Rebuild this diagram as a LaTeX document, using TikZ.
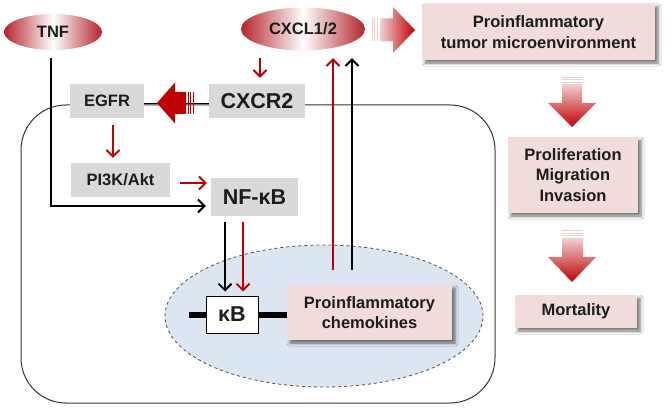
\documentclass[tikz,border=0pt]{standalone}
\usepackage{fontspec}
\setmainfont{Liberation Sans}
\usetikzlibrary{arrows.meta,shapes.geometric,shadows.blur,calc}
\definecolor{dred}{HTML}{C00000}
\definecolor{ered}{HTML}{B3262B}
\definecolor{pinkbox}{HTML}{F2DCDB}
\definecolor{graybox}{HTML}{D9D9D9}
\definecolor{nucfill}{HTML}{DCE6F2}
\definecolor{txt}{HTML}{1C1C1C}
\definecolor{lightpk}{HTML}{F2CFCF}
\begin{document}
\begin{tikzpicture}[x=1pt,y=-1pt,
  base/.style={font=\fontsize{16.5}{20.5}\selectfont\bfseries, text=txt, inner sep=0pt, align=center},
  big/.style={font=\fontsize{21.5}{24}\selectfont\bfseries},
  graybx/.style={base, rectangle, fill=graybox},
  pinkbx/.style={base, rectangle, fill=pinkbox, blur shadow={shadow xshift=3pt, shadow yshift=-3pt, shadow blur radius=3pt, shadow opacity=55}},
  lig/.style={base, ellipse, left color=ered, right color=ered, middle color=white},
  redarr/.style={draw=dred, line width=1.9pt, -{Straight Barb[length=6.5pt,width=13pt]}},
  blkarr/.style={draw=black, line width=1.9pt, -{Straight Barb[length=6.5pt,width=13pt]}},
  stripe/.style={line width=0.8pt},
]
\useasboundingbox (0,0) rectangle (672,409);
\fill[white] (0,0) rectangle (672,409);

% cell
\draw[line width=1pt, black!80, rounded corners=45] (21,105) rectangle (495,403);
% nucleus
\node[ellipse, draw=black!70, dashed, line width=0.8pt, fill=nucfill, minimum width=318, minimum height=142, inner sep=0] (nuc) at (324,316) {};

% nodes
\node[lig, minimum width=98, minimum height=36] (tnf) at (53,32) {TNF};
\node[lig, minimum width=124, minimum height=43] (cxcl) at (303,29) {CXCL1/2};
\node[graybx, minimum width=74, minimum height=34] (egfr) at (107,101) {EGFR};
\node[graybx, big, minimum width=96, minimum height=34] (cxcr2) at (257,101) {CXCR2};
\node[graybx, minimum width=99, minimum height=34] (pi3k) at (120.5,180) {PI3K/Akt};
\node[graybx, big, minimum width=87, minimum height=38] (nfkb) at (254.5,197) {NF-κB};
\node[pinkbx, minimum width=165, minimum height=55] (chemo) at (369.5,312.5) {Proinflammatory\\chemokines};
\draw[line width=6pt] (189,315) -- (chemo.west |- 0,315);
\node[base, big, draw=black, line width=1pt, fill=white, minimum width=52, minimum height=37] (kb) at (232,314.5) {κB};
\node[pinkbx, minimum width=233, minimum height=56] (tme) at (538.5,32) {Proinflammatory\\tumor microenvironment};
\node[pinkbx, minimum width=130, minimum height=76] (pmi) at (573,175) {Proliferation\\Migration\\Invasion};
\node[pinkbx, minimum width=122, minimum height=33] (mort) at (576,311.5) {Mortality};

% EGFR - CXCR2 line and block arrow
\draw[line width=0.8pt] (egfr.east |- 0,103) -- (cxcr2.west |- 0,103);
\fill[dred] (157,103) -- (175,82.5) -- (175,92) -- (186,92) -- (186,114) -- (175,114) -- (175,123.5) -- cycle;
\foreach \xx in {188,190.5,193} \draw[dred, stripe] (\xx,92) -- (\xx,114);

% right block arrow (CXCL -> TME)
\shade[left color=lightpk, right color=dred] (380,18.5) -- (393,18.5) -- (393,7) -- (415,30) -- (393,53) -- (393,41.5) -- (380,41.5) -- cycle;
\foreach \xx in {372,374.5,377} \draw[lightpk, stripe] (\xx,18.5) -- (\xx,41.5);

% down block arrows
\shade[top color=lightpk, bottom color=dred] (562,84) -- (582,84) -- (582,103) -- (596,103) -- (572,127) -- (548,103) -- (562,103) -- cycle;
\foreach \yy in {77,79.5,82} \draw[lightpk, stripe] (562,\yy) -- (582,\yy);
\shade[top color=lightpk, bottom color=dred] (562,238) -- (583,238) -- (583,257) -- (596,257) -- (572,282) -- (548,257) -- (562,257) -- cycle;
\foreach \yy in {230.5,233,235.5} \draw[lightpk, stripe] (562,\yy) -- (583,\yy);

% small arrows
\draw[redarr, shorten <=7.5pt, shorten >=6pt] (cxcl.south -| 260,0) -- (cxcr2.north -| 260,0);
\draw[redarr, shorten <=7pt, shorten >=5pt] ([xshift=6pt]egfr.south) -- ([xshift=6pt]egfr.south |- pi3k.north);
\draw[redarr, shorten <=10pt, shorten >=4pt] ([yshift=-3pt]pi3k.east) -- ([yshift=-3pt]pi3k.east -| nfkb.west);
\draw[blkarr, shorten <=8pt, shorten >=5pt] (tnf.south -| 51,0) |- ([yshift=-9pt]nfkb.west);
\draw[blkarr, shorten <=6pt, shorten >=4pt] ([xshift=-7pt]kb.north |- nfkb.south) -- ([xshift=-7pt]kb.north);
\draw[redarr, shorten <=6pt, shorten >=4pt] ([xshift=11pt]kb.north |- nfkb.south) -- ([xshift=11pt]kb.north);
\draw[redarr, shorten <=15pt, shorten >=7.5pt] ([xshift=-36.5pt]chemo.north) -- ([xshift=-36.5pt]chemo.north |- cxcl.south);
\draw[blkarr, shorten <=15pt, shorten >=7.5pt] ([xshift=-17.5pt]chemo.north) -- ([xshift=-17.5pt]chemo.north |- cxcl.south);
\end{tikzpicture}
\end{document}
